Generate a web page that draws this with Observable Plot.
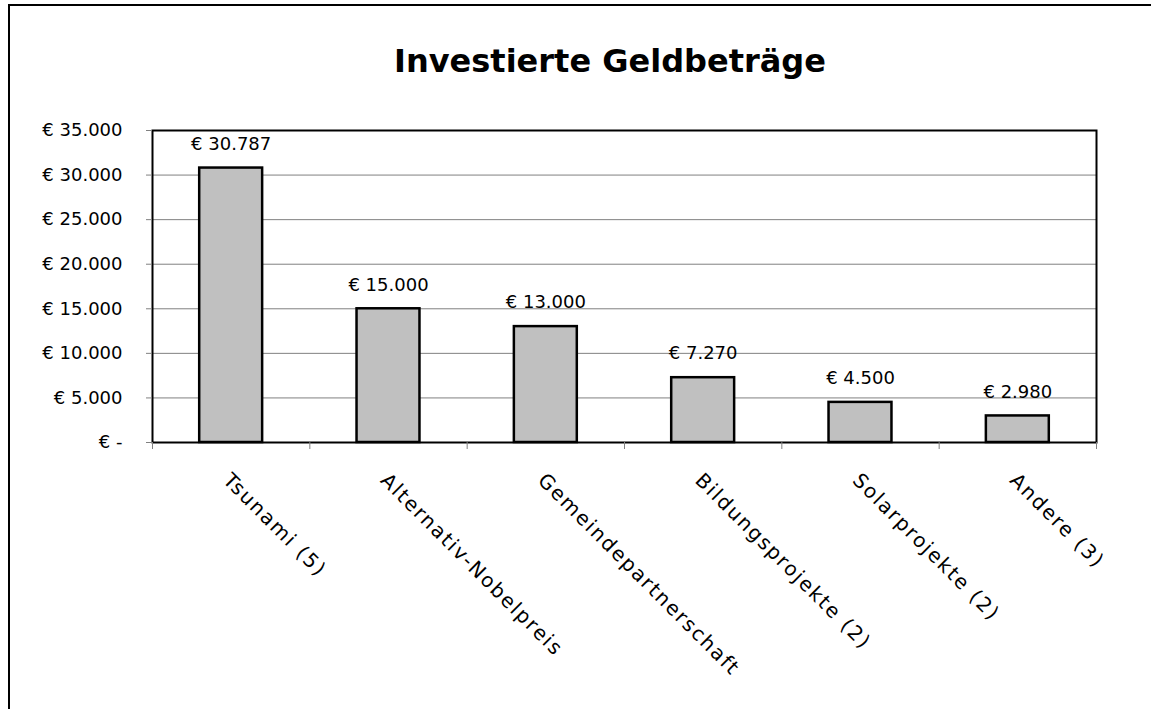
<!DOCTYPE html>
<html>
<head>
<meta charset="utf-8">
<script src="https://cdn.jsdelivr.net/npm/d3@7"></script>
<script src="https://cdn.jsdelivr.net/npm/@observablehq/plot@0.6"></script>
<style>
  html, body { margin: 0; padding: 0; background: #fff; overflow: hidden; }
  #page { position: relative; width: 1151px; height: 709px; overflow: hidden; font-family: "DejaVu Sans", sans-serif; }
  #border { position: absolute; left: 8px; top: 4px; width: 1200px; height: 800px; border-left: 2px solid #000; border-top: 2px solid #000; }
  #title { position: absolute; left: 0; width: 1220px; top: 41px; text-align: center; font-size: 32px; font-weight: bold; line-height: 40px; color: #000; }
  #chart { position: absolute; left: 0; top: 0; }
  .xlab text { letter-spacing: 1.8px; }
</style>
</head>
<body>
<div id="page">
  <div id="border"></div>
  <div id="title">Investierte Geldbeträge</div>
  <div id="chart"></div>
</div>
<script>
const categories = ["Tsunami (5)", "Alternativ-Nobelpreis", "Gemeindepartnerschaft", "Bildungsprojekte (2)", "Solarprojekte (2)", "Andere (3)"];
const values = [30787, 15000, 13000, 7270, 4500, 2980];
const yTicks = [0, 5000, 10000, 15000, 20000, 25000, 30000, 35000];

const de = d3.formatLocale({decimal: ",", thousands: ".", grouping: [3], currency: ["€ ", ""]});
const fmtNum = de.format(",d");
const euro = v => v === 0 ? "€ -" : "€ " + fmtNum(v);

const data = categories.map((c, i) => ({i, category: c, value: values[i]}));

const chart = Plot.plot({
  width: 1151,
  height: 709,
  marginLeft: 152,
  marginRight: 55,
  marginTop: 130,
  marginBottom: 267,
  style: {fontFamily: "DejaVu Sans, sans-serif", background: "transparent", overflow: "visible"},
  x: {type: "linear", domain: [0, categories.length], axis: null},
  y: {domain: [0, 35000], axis: null},
  marks: [
    Plot.gridY(yTicks.filter(t => t > 0 && t < 35000), {stroke: "#808080", strokeOpacity: 1, strokeWidth: 1}),
    Plot.rectY(data, {x1: d => d.i + 0.3, x2: d => d.i + 0.7, y: "value", fill: "#c0c0c0", stroke: "#000", strokeWidth: 2.5}),
    Plot.frame({stroke: "#000", strokeWidth: 2}),
    Plot.axisY({ticks: yTicks, tickSize: 6, tickPadding: 24, tickFormat: euro, stroke: "#808080", fill: "#000", fontSize: 18, label: null}),
    Plot.axisX({ticks: d3.range(categories.length + 1), tickSize: 7, tickFormat: () => "", stroke: "#808080", label: null}),
    Plot.text(data, {x: d => d.i + 0.5, y: "value", text: d => euro(d.value), dy: -24, fontSize: 18, fill: "#000", lineAnchor: "middle"}),
    Plot.text(data, {x: d => d.i + 0.5, y: 0, text: "category", rotate: 45, textAnchor: "start", lineAnchor: "top", dx: 1, dy: 29, fontSize: 20, fill: "#000", className: "xlab"})
  ]
});
document.getElementById("chart").appendChild(chart);
</script>
</body>
</html>
